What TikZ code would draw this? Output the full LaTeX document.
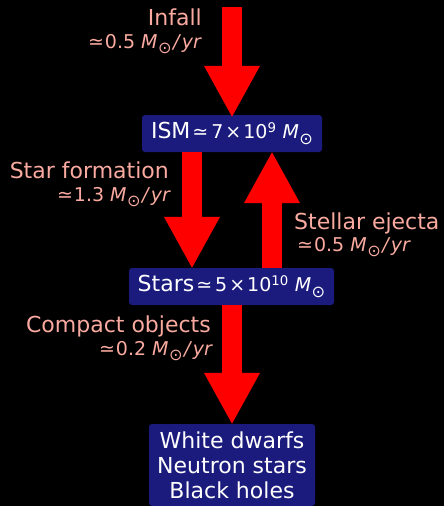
\documentclass[tikz,border=0pt]{standalone}
\usepackage{fontspec}
\setmainfont{DejaVu Sans}
\usepackage{graphicx}
\usetikzlibrary{arrows.meta}
\definecolor{boxblue}{RGB}{27,27,125}
\definecolor{labelpink}{RGB}{250,170,160}
\definecolor{flowred}{RGB}{255,0,0}
\newcommand\mth{\fontsize{19}{22}\selectfont}
\newcommand\msun{\textit{M}\kern0.5pt\raisebox{-0.28em}{\scalebox{0.85}{⊙}}}
\newcommand\myrate[1]{≃\kern1pt#1 \msun\kern1.5pt\textit{/}\kern0.5pt\textit{yr}}
\tikzset{
  box/.style={fill=boxblue, rounded corners=3pt, text=white, inner sep=0pt,
    font=\fontsize{22}{25}\selectfont, align=center},
  lbl/.style={text=labelpink, inner sep=0pt, font=\fontsize{22}{25}\selectfont},
  sublbl/.style={text=labelpink, inner sep=0pt, font=\mth},
  flow/.style={draw=flowred, line width=20pt,
    -{Triangle[width=52pt,length=52pt,fill=flowred]}}
}
\begin{document}
\begin{tikzpicture}[x=1pt,y=-1pt]
\fill[black] (0,0) rectangle (444,506);
\useasboundingbox (0,0) rectangle (444,506);
% boxes
\node[box, minimum width=180pt, minimum height=37pt] (ism) at (232,133.5)
  {ISM\kern2pt{\mth≃\kern3pt7\kern2pt×\kern2pt10\textsuperscript{9}\kern6pt\msun}};
\node[box, minimum width=205pt, minimum height=37pt] (stars) at (231.5,286.5)
  {Stars\kern2pt{\mth≃\kern3pt5\kern2pt×\kern2pt10\textsuperscript{10}\kern6pt\msun}};
\node[box, minimum width=166pt, minimum height=82pt] (rem) at (232,465)
  {White dwarfs\\Neutron stars\\Black holes};
% free end of the infall arrow
\coordinate (top) at (232,7);
% arrows
\draw[flow] (top) -- ([yshift=-3pt]ism.north);
\draw[flow] (ism.south -| 192,0) -- ([yshift=-1pt]stars.north -| 192,0);
\draw[flow] (stars.north -| 272,0) -- ([yshift=1pt]ism.south -| 272,0);
\draw[flow] (stars.south -| 232,0) -- ([yshift=-1pt]rem.north -| 232,0);
% labels
\node[lbl, anchor=base east] (l1) at (202,25) {Infall};
\node[sublbl, anchor=base east] (l1b) at (202,48) {\myrate{0.5}};
\node[lbl, anchor=base east] (l2) at (169,178) {Star formation};
\node[sublbl, anchor=base east] (l2b) at (171,201) {\myrate{1.3}};
\node[lbl, anchor=base west] (l3) at (294,229) {Stellar ejecta};
\node[sublbl, anchor=base west] (l3b) at (297,251) {\myrate{0.5}};
\node[lbl, anchor=base east] (l4) at (211,332) {Compact objects};
\node[sublbl, anchor=base east] (l4b) at (213,355) {\myrate{0.2}};
\end{tikzpicture}
\end{document}
